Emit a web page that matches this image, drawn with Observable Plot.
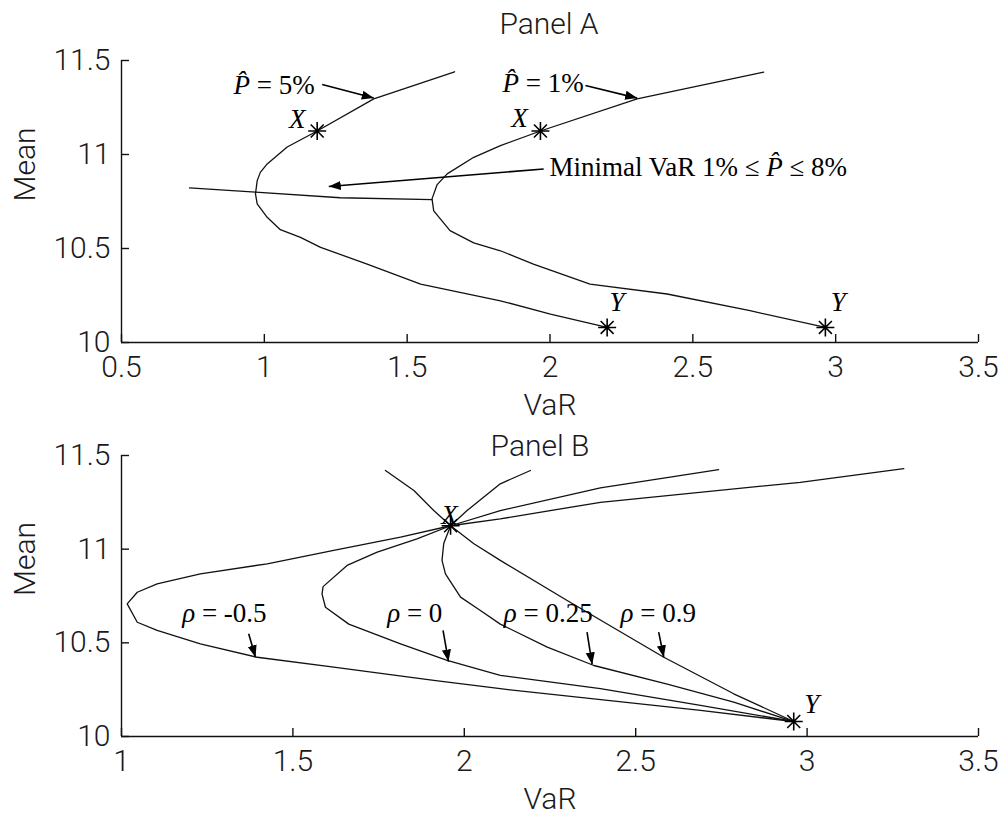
<!DOCTYPE html>
<html><head><meta charset="utf-8">
<script src="https://cdn.jsdelivr.net/npm/d3@7"></script>
<script src="https://cdn.jsdelivr.net/npm/@observablehq/plot@0.6"></script>
<style>
body{margin:0;background:#fff;}
#chart svg{display:block;}
</style>
</head><body><div id="chart"></div>
<script>
// ---------- Panel A data ----------
const xTicksA = [0.5, 1, 1.5, 2, 2.5, 3, 3.5];
const xTickLabelsA = ["0.5", "1", "1.5", "2", "2.5", "3", "3.5"];
const yTicks = [10, 10.5, 11, 11.5];
const yTickLabels = ["10", "10.5", "11", "11.5"];

// P-hat = 5% frontier (VaR, Mean)
const curveP5 = [[1.666,11.44],[1.383,11.296],[1.185,11.125],[1.08,11.04],[1.01,10.95],[0.986,10.905],[0.975,10.861],[0.969,10.79],[0.975,10.737],[1.01,10.666],[1.056,10.60],[1.1265,10.559],[1.197,10.506],[1.36,10.417],[1.547,10.31],[1.8265,10.222],[2.0015,10.151],[2.2,10.08]];
// P-hat = 1% frontier
const curveP1 = [[2.748,11.438],[2.305,11.296],[1.9665,11.125],[1.8265,11.047],[1.733,10.985],[1.64,10.897],[1.605,10.84],[1.587,10.764],[1.593,10.70],[1.65,10.595],[1.733,10.53],[1.8265,10.488],[1.942,10.417],[2.14,10.31],[2.41,10.258],[2.70,10.169],[2.964,10.08]];
// Minimal VaR locus, 1% <= P-hat <= 8%
const curveMinVaR = [[0.738,10.822],[0.969,10.80],[1.266,10.77],[1.587,10.76]];
const starsA = [
  {name:"X", var:1.185, mean:11.125},
  {name:"X", var:1.9665, mean:11.125},
  {name:"Y", var:2.2, mean:10.08},
  {name:"Y", var:2.964, mean:10.08}
];
const arrowsA = [
  {x1:1.2025, y1:11.372, x2:1.383, y2:11.300},
  {x1:2.124, y1:11.367, x2:2.305, y2:11.300},
  {x1:1.978, y1:10.923, x2:1.2255, y2:10.830}
];
const notesA = [
  {text:"P\u0302 = 5%", x:0.892, y:11.368},
  {text:"P\u0302 = 1%", x:1.8335, y:11.376},
  {text:"Minimal VaR 1% \u2264 P\u0302 \u2264 8%", x:1.998, y:10.932}
];

// ---------- Panel B data ----------
const xTicksB = [1, 1.5, 2, 2.5, 3, 3.5];
const xTickLabelsB = ["1", "1.5", "2", "2.5", "3", "3.5"];
const curveRhoM05 = [[3.282,11.43],[2.98,11.357],[2.397,11.25],[2.105,11.162],[1.96,11.125],[1.814,11.064],[1.619,10.993],[1.425,10.922],[1.23,10.868],[1.104,10.815],[1.046,10.77],[1.0166,10.708],[1.046,10.61],[1.104,10.566],[1.23,10.495],[1.396,10.423],[1.619,10.37],[1.911,10.30],[2.105,10.255],[2.689,10.139],[2.961,10.08]];
const curveRho0 = [[2.742,11.425],[2.397,11.327],[2.105,11.206],[1.96,11.125],[1.862,11.055],[1.746,10.984],[1.658,10.913],[1.588,10.80],[1.585,10.76],[1.595,10.69],[1.663,10.60],[1.814,10.495],[1.95,10.406],[2.105,10.326],[2.397,10.255],[2.689,10.166],[2.961,10.08]];
const curveRho025 = [[2.193,11.42],[2.105,11.349],[2.008,11.206],[1.96,11.125],[1.94,11.03],[1.935,10.94],[1.945,10.868],[1.989,10.744],[2.047,10.673],[2.105,10.60],[2.242,10.477],[2.378,10.379],[2.592,10.28],[2.786,10.183],[2.961,10.08]];
const curveRho09 = [[1.77,11.42],[1.853,11.313],[1.911,11.206],[1.96,11.125],[2.028,11.029],[2.105,10.94],[2.30,10.726],[2.582,10.423],[2.786,10.228],[2.961,10.08]];
const starsB = [
  {name:"X", var:1.96, mean:11.125},
  {name:"Y", var:2.961, mean:10.08}
];
const arrowsB = [
  {x1:1.371, y1:10.548, x2:1.391, y2:10.423},
  {x1:1.938, y1:10.566, x2:1.954, y2:10.400},
  {x1:2.358, y1:10.557, x2:2.373, y2:10.385},
  {x1:2.567, y1:10.557, x2:2.582, y2:10.423}
];
const notesB = [
  {text:"\u03C1 = -0.5", x:1.177, y:10.655},
  {text:"\u03C1 = 0", x:1.775, y:10.655},
  {text:"\u03C1 = 0.25", x:2.115, y:10.655},
  {text:"\u03C1 = 0.9", x:2.456, y:10.655}
];

// ---------- helpers ----------
const SANS = "Roboto, Liberation Sans, Arial, sans-serif";
const SERIF = "Liberation Serif, Times New Roman, serif";
const INK = "#111";
const TXT = "#1a1a1a";
const asterisk8 = {
  draw(context, size) {
    const r = Math.sqrt(size / Math.PI), d = r * 0.72;
    context.moveTo(-r, 0); context.lineTo(r, 0);
    context.moveTo(0, -r); context.lineTo(0, r);
    context.moveTo(-d, -d); context.lineTo(d, d);
    context.moveTo(-d, d); context.lineTo(d, -d);
  }
};
const line = (data) => Plot.line(data, {x: d => d[0], y: d => d[1], stroke: INK, strokeWidth: 1.3});

function finish(svg, id) {
  const ns = "http://www.w3.org/2000/svg";
  const defs = document.createElementNS(ns, "defs");
  defs.innerHTML = `<marker id="${id}" viewBox="0 0 10 10" refX="10" refY="5" markerWidth="12" markerHeight="12" markerUnits="userSpaceOnUse" orient="auto"><path d="M0,1.2L10,5L0,8.8z" fill="#000"/></marker>`;
  svg.insertBefore(defs, svg.firstChild);
  svg.querySelectorAll('g[aria-label="link"] path').forEach(p => p.setAttribute("marker-end", `url(#${id})`));
  svg.querySelectorAll("text").forEach(t => {
    const s = t.textContent;
    if (!/P\u0302|\u03C1/.test(s)) return;
    const parts = s.split(/(P\u0302|\u03C1)/);
    t.textContent = "";
    parts.forEach(part => {
      if (!part) return;
      const ts = document.createElementNS(ns, "tspan");
      if (part === "P\u0302" || part === "\u03C1") ts.setAttribute("font-style", "italic");
      ts.textContent = part;
      t.appendChild(ts);
    });
  });
  return svg;
}

function panel({height, mt, mb, xDomain, xTicks, xTickLabels, title, titleDy, titleDx, curves, stars, starLabels, arrows, notes, id}) {
  const ml = 121, mr = 25, W = 1003;
  const fw = W - ml - mr, fh = height - mt - mb;
  const sans = {fontSize: 30, fontFamily: SANS, fontWeight: 300, fill: TXT};
  const marks = [
    Plot.ruleY([10], {stroke: INK, strokeWidth: 1.4}),
    Plot.ruleX([xDomain[0]], {stroke: INK, strokeWidth: 1.4}),
    Plot.tickX(xTicks, {x: d => d, stroke: INK, strokeWidth: 1.4, insetTop: fh - 8}),
    Plot.tickY(yTicks, {y: d => d, stroke: INK, strokeWidth: 1.4, insetRight: fw - 8}),
    Plot.text(xTicks, {x: d => d, text: (d, i) => xTickLabels[i], frameAnchor: "bottom", lineAnchor: "top", dy: 13, ...sans}),
    Plot.text(yTicks, {y: d => d, text: (d, i) => yTickLabels[i], frameAnchor: "left", textAnchor: "end", lineAnchor: "middle", dx: -11, ...sans}),
    Plot.text(["VaR"], {text: d => d, frameAnchor: "bottom", lineAnchor: "middle", dy: 63, ...sans}),
    Plot.text(["Mean"], {text: d => d, frameAnchor: "left", rotate: -90, lineAnchor: "middle", dx: -96, ...sans}),
    Plot.text([title], {text: d => d, frameAnchor: "top", lineAnchor: "middle", dy: titleDy, dx: titleDx, ...sans}),
    ...curves.map(line),
    Plot.dot(stars, {x: "var", y: "mean", r: 9, symbol: asterisk8, stroke: "#000", strokeWidth: 1.6, fill: "none"}),
    ...starLabels.map(([i, dx, dy]) => Plot.text([stars[i]], {x: "var", y: "mean", text: "name", dx, dy, fontSize: 27, fontFamily: SERIF, fontStyle: "italic", fill: "#000"})),
    Plot.link(arrows, {x1: "x1", y1: "y1", x2: "x2", y2: "y2", stroke: "#000", strokeWidth: 1.6}),
    Plot.text(notes, {x: "x", y: "y", text: "text", textAnchor: "start", lineAnchor: "middle", fontSize: 27, fontFamily: SERIF, fill: "#000"})
  ];
  const svg = Plot.plot({
    width: W, height,
    marginLeft: ml, marginRight: mr, marginTop: mt, marginBottom: mb,
    x: {domain: xDomain, axis: null},
    y: {domain: [10, 11.5], axis: null},
    style: {fontFamily: SANS, background: "#fff", overflow: "visible"},
    marks
  });
  return finish(svg, id);
}

const chart = document.getElementById("chart");
chart.appendChild(panel({
  id: "ahA", height: 420, mt: 60, mb: 78, xDomain: [0.5, 3.5],
  xTicks: xTicksA, xTickLabels: xTickLabelsA,
  title: "Panel A", titleDy: -36, titleDx: -1,
  curves: [curveP5, curveP1, curveMinVaR],
  stars: starsA, starLabels: [[0, -20, -12], [1, -21, -13], [2, 10, -25], [3, 13, -25]],
  arrows: arrowsA, notes: notesA
}));
chart.appendChild(panel({
  id: "ahB", height: 396, mt: 35, mb: 80, xDomain: [1, 3.5],
  xTicks: xTicksB, xTickLabels: xTickLabelsB,
  title: "Panel B", titleDy: -9, titleDx: -10,
  curves: [curveRhoM05, curveRho0, curveRho025, curveRho09],
  stars: starsB, starLabels: [[0, -1, -10], [1, 18, -17]],
  arrows: arrowsB, notes: notesB
}));
</script>
</body></html>
